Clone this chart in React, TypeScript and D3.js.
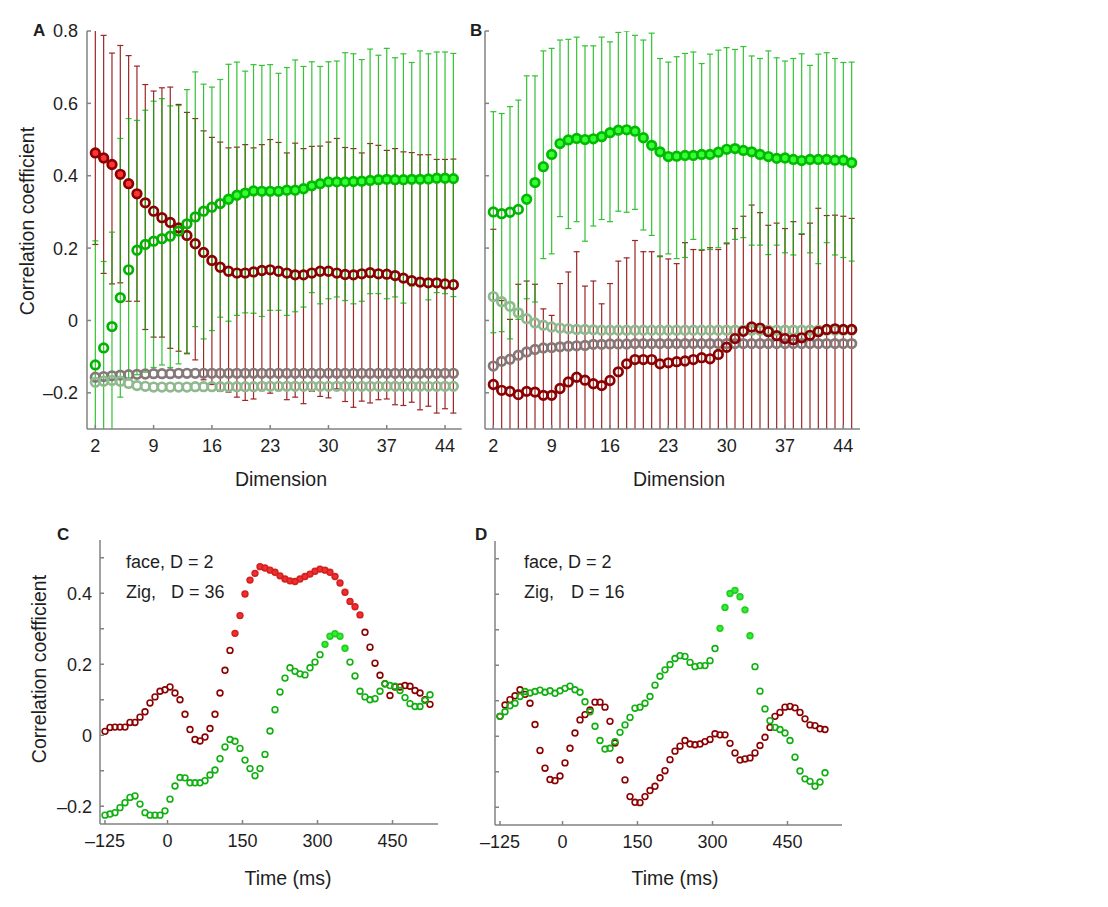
import * as d3 from 'd3'

// x categories
const dims = d3.range(2, 46)
const times = d3.range(-125, 535, 10)

const dimTicks = [2, 9, 16, 23, 30, 37, 44]
const corrTicksAB = [-0.2, 0, 0.2, 0.4, 0.6, 0.8]
const timeTicks = [-125, 0, 150, 300, 450]
const corrTicksCD = [-0.2, -0.1, 0, 0.1, 0.2, 0.3, 0.4, 0.5]
const corrLabelsCD = [-0.2, 0, 0.2, 0.4]

// panel A (dims 2..45)
const aFaceMean = [0.463, 0.449, 0.431, 0.404, 0.378, 0.350, 0.325, 0.302, 0.284, 0.271, 0.256, 0.235, 0.212, 0.188, 0.166, 0.147, 0.136, 0.131, 0.131, 0.134, 0.138, 0.140, 0.136, 0.131, 0.126, 0.126, 0.131, 0.136, 0.136, 0.131, 0.127, 0.126, 0.129, 0.132, 0.129, 0.128, 0.124, 0.117, 0.110, 0.106, 0.104, 0.104, 0.101, 0.099]
const aFaceUp = [0.85, 0.788, 0.739, 0.760, 0.732, 0.703, 0.652, 0.634, 0.643, 0.645, 0.597, 0.575, 0.558, 0.524, 0.506, 0.493, 0.477, 0.479, 0.486, 0.477, 0.486, 0.500, 0.492, 0.463, 0.490, 0.475, 0.481, 0.482, 0.493, 0.503, 0.478, 0.475, 0.463, 0.489, 0.484, 0.470, 0.475, 0.466, 0.464, 0.458, 0.458, 0.445, 0.445, 0.446]
const aFaceLo = [0.210, 0.130, 0.101, 0.104, 0.053, 0.053, -0.025, -0.046, -0.046, -0.077, -0.085, -0.092, -0.109, -0.164, -0.177, -0.196, -0.198, -0.212, -0.221, -0.217, -0.194, -0.201, -0.194, -0.219, -0.212, -0.230, -0.196, -0.210, -0.214, -0.189, -0.224, -0.240, -0.223, -0.228, -0.219, -0.217, -0.233, -0.235, -0.226, -0.247, -0.237, -0.256, -0.244, -0.256]
const aZigMean = [-0.123, -0.076, -0.017, 0.063, 0.140, 0.194, 0.210, 0.219, 0.226, 0.233, 0.247, 0.267, 0.286, 0.302, 0.313, 0.323, 0.335, 0.346, 0.352, 0.358, 0.357, 0.357, 0.357, 0.360, 0.360, 0.364, 0.372, 0.378, 0.383, 0.383, 0.383, 0.384, 0.385, 0.387, 0.389, 0.390, 0.389, 0.389, 0.390, 0.390, 0.391, 0.393, 0.393, 0.392]
const aZigUp = [0.220, 0.163, 0.244, 0.503, 0.558, 0.553, 0.581, 0.606, 0.613, 0.593, 0.594, 0.638, 0.687, 0.653, 0.645, 0.666, 0.708, 0.714, 0.689, 0.707, 0.705, 0.707, 0.683, 0.699, 0.720, 0.702, 0.715, 0.702, 0.715, 0.717, 0.740, 0.737, 0.721, 0.750, 0.733, 0.752, 0.726, 0.737, 0.713, 0.745, 0.737, 0.742, 0.742, 0.738]
const aZigLo = [-0.42, -0.42, -0.42, -0.212, -0.160, -0.150, -0.143, -0.130, -0.123, -0.130, -0.120, -0.090, -0.017, -0.051, -0.028, 0.009, -0.002, 0.014, 0.021, 0.020, 0.011, 0.028, 0.028, 0.014, 0.024, 0.037, 0.077, 0.046, 0.060, 0.065, 0.055, 0.046, 0.053, 0.074, 0.074, 0.060, 0.065, 0.048, 0.095, 0.094, 0.057, 0.077, 0.074, 0.066]
const aFaceNull = [-0.157, -0.155, -0.153, -0.151, -0.150, -0.149, -0.148, -0.147, -0.147, -0.147, -0.146, -0.146, -0.146, -0.146, -0.146, -0.146, -0.146, -0.146, -0.146, -0.146, -0.146, -0.146, -0.146, -0.146, -0.146, -0.146, -0.146, -0.146, -0.146, -0.146, -0.146, -0.146, -0.146, -0.146, -0.146, -0.146, -0.146, -0.146, -0.146, -0.146, -0.146, -0.146, -0.146, -0.146]
const aZigNull = [-0.171, -0.168, -0.166, -0.168, -0.174, -0.180, -0.182, -0.184, -0.184, -0.184, -0.184, -0.184, -0.183, -0.183, -0.183, -0.183, -0.183, -0.183, -0.183, -0.183, -0.182, -0.182, -0.182, -0.182, -0.182, -0.182, -0.182, -0.182, -0.182, -0.182, -0.182, -0.182, -0.182, -0.182, -0.182, -0.182, -0.182, -0.182, -0.182, -0.182, -0.182, -0.182, -0.182, -0.182]
const aFaceSig = [2, 7]
const aZigSig = [18, 45]

// panel B (dims 2..45)
const bFaceMean = [-0.177, -0.193, -0.196, -0.205, -0.196, -0.198, -0.207, -0.207, -0.188, -0.170, -0.157, -0.165, -0.175, -0.180, -0.166, -0.142, -0.120, -0.108, -0.108, -0.108, -0.120, -0.117, -0.114, -0.112, -0.108, -0.103, -0.106, -0.094, -0.074, -0.050, -0.030, -0.018, -0.021, -0.031, -0.042, -0.050, -0.053, -0.048, -0.041, -0.031, -0.025, -0.023, -0.025, -0.025]
const bFaceUp = [0.252, 0.055, 0.003, 0.100, 0.109, 0.100, 0.032, 0.014, 0.102, 0.134, 0.190, 0.095, 0.109, 0.046, 0.102, 0.164, 0.173, 0.221, 0.190, 0.190, 0.178, 0.170, 0.157, 0.215, 0.196, 0.194, 0.201, 0.196, 0.212, 0.254, 0.288, 0.319, 0.298, 0.263, 0.269, 0.254, 0.273, 0.238, 0.269, 0.310, 0.290, 0.291, 0.288, 0.282]
const bFaceLo = [-0.42, -0.42, -0.42, -0.42, -0.42, -0.42, -0.42, -0.42, -0.42, -0.42, -0.42, -0.42, -0.42, -0.42, -0.42, -0.42, -0.42, -0.42, -0.42, -0.42, -0.42, -0.42, -0.42, -0.42, -0.42, -0.42, -0.42, -0.42, -0.42, -0.42, -0.42, -0.42, -0.42, -0.42, -0.42, -0.42, -0.42, -0.42, -0.42, -0.42, -0.42, -0.42, -0.42, -0.42]
const bZigMean = [0.300, 0.295, 0.299, 0.307, 0.335, 0.381, 0.425, 0.459, 0.489, 0.499, 0.503, 0.500, 0.502, 0.508, 0.519, 0.526, 0.527, 0.523, 0.505, 0.484, 0.466, 0.453, 0.454, 0.456, 0.456, 0.459, 0.459, 0.465, 0.473, 0.475, 0.470, 0.466, 0.459, 0.453, 0.448, 0.449, 0.445, 0.442, 0.445, 0.445, 0.445, 0.443, 0.443, 0.436]
const bZigUp = [0.577, 0.572, 0.591, 0.609, 0.676, 0.676, 0.745, 0.752, 0.775, 0.777, 0.783, 0.759, 0.759, 0.783, 0.770, 0.796, 0.800, 0.788, 0.775, 0.794, 0.724, 0.714, 0.729, 0.738, 0.742, 0.710, 0.736, 0.747, 0.754, 0.749, 0.757, 0.731, 0.724, 0.745, 0.726, 0.717, 0.724, 0.737, 0.705, 0.736, 0.740, 0.724, 0.713, 0.714]
const bZigLo = [-0.034, -0.031, -0.051, 0.003, 0.060, 0.051, 0.171, 0.184, 0.287, 0.254, 0.273, 0.219, 0.261, 0.279, 0.273, 0.302, 0.299, 0.307, 0.250, 0.235, 0.176, 0.184, 0.171, 0.174, 0.224, 0.196, 0.196, 0.201, 0.215, 0.224, 0.229, 0.208, 0.208, 0.182, 0.208, 0.187, 0.181, 0.240, 0.187, 0.157, 0.215, 0.181, 0.174, 0.164]
const bFaceNull = [-0.126, -0.113, -0.107, -0.096, -0.087, -0.080, -0.076, -0.075, -0.073, -0.071, -0.070, -0.069, -0.066, -0.066, -0.065, -0.065, -0.065, -0.064, -0.064, -0.064, -0.064, -0.064, -0.064, -0.064, -0.064, -0.064, -0.064, -0.064, -0.064, -0.064, -0.064, -0.064, -0.064, -0.064, -0.064, -0.064, -0.064, -0.064, -0.064, -0.064, -0.064, -0.064, -0.064, -0.064]
const bZigNull = [0.066, 0.052, 0.039, 0.021, 0.005, -0.007, -0.013, -0.018, -0.021, -0.023, -0.025, -0.025, -0.026, -0.027, -0.027, -0.027, -0.027, -0.027, -0.027, -0.027, -0.027, -0.027, -0.027, -0.027, -0.027, -0.027, -0.027, -0.027, -0.027, -0.027, -0.027, -0.027, -0.027, -0.027, -0.027, -0.027, -0.027, -0.027, -0.027, -0.027, -0.027, -0.027, -0.027, -0.027]
const bFaceSig: number[] = []
const bZigSig = [6, 45]

// panel C (time -125..525 ms)
const cFace = [0.011, 0.022, 0.023, 0.023, 0.023, 0.036, 0.036, 0.051, 0.066, 0.091, 0.108, 0.124, 0.128, 0.136, 0.119, 0.100, 0.059, 0.016, -0.012, -0.016, -0.005, 0.019, 0.059, 0.119, 0.183, 0.239, 0.287, 0.337, 0.398, 0.437, 0.456, 0.475, 0.471, 0.465, 0.459, 0.449, 0.440, 0.435, 0.433, 0.440, 0.447, 0.454, 0.462, 0.468, 0.465, 0.459, 0.447, 0.429, 0.403, 0.377, 0.362, 0.339, 0.290, 0.248, 0.203, 0.169, 0.145, 0.112, 0.136, 0.136, 0.140, 0.138, 0.126, 0.119, 0.100, 0.087]
const cZig = [-0.225, -0.222, -0.218, -0.204, -0.190, -0.175, -0.171, -0.194, -0.218, -0.225, -0.225, -0.225, -0.213, -0.180, -0.143, -0.119, -0.120, -0.134, -0.134, -0.134, -0.128, -0.112, -0.098, -0.066, -0.033, -0.012, -0.017, -0.037, -0.070, -0.094, -0.114, -0.094, -0.054, 0.012, 0.072, 0.122, 0.161, 0.190, 0.180, 0.173, 0.170, 0.190, 0.206, 0.227, 0.256, 0.279, 0.286, 0.279, 0.245, 0.206, 0.167, 0.124, 0.108, 0.100, 0.103, 0.124, 0.145, 0.140, 0.138, 0.126, 0.106, 0.089, 0.081, 0.081, 0.098, 0.114]
const cFaceSig = [135, 385]
const cZigSig = [315, 355]

// panel D (time -125..525 ms)
const dFace = [0.056, 0.088, 0.103, 0.114, 0.131, 0.118, 0.093, 0.033, -0.040, -0.090, -0.122, -0.125, -0.112, -0.075, -0.034, 0.009, 0.046, 0.061, 0.074, 0.096, 0.096, 0.082, 0.042, -0.019, -0.067, -0.123, -0.170, -0.186, -0.187, -0.170, -0.153, -0.141, -0.117, -0.097, -0.066, -0.042, -0.028, -0.012, -0.022, -0.024, -0.022, -0.015, -0.009, 0.007, 0.004, 0.004, -0.020, -0.047, -0.067, -0.064, -0.061, -0.047, -0.026, -0.003, 0.025, 0.056, 0.067, 0.082, 0.084, 0.080, 0.067, 0.049, 0.032, 0.030, 0.021, 0.019]
const dZig = [0.056, 0.069, 0.086, 0.093, 0.112, 0.126, 0.122, 0.126, 0.130, 0.124, 0.128, 0.121, 0.128, 0.135, 0.141, 0.131, 0.124, 0.097, 0.069, 0.028, -0.012, -0.036, -0.034, -0.015, 0.011, 0.032, 0.053, 0.079, 0.082, 0.093, 0.112, 0.144, 0.169, 0.187, 0.202, 0.219, 0.227, 0.225, 0.208, 0.196, 0.199, 0.199, 0.213, 0.247, 0.304, 0.363, 0.402, 0.411, 0.393, 0.356, 0.283, 0.196, 0.127, 0.077, 0.044, 0.025, 0.019, 0.009, -0.012, -0.059, -0.098, -0.120, -0.127, -0.141, -0.129, -0.103]
const dFaceSig: number[] = []
const dZigSig = [315, 375]

const font = '"Liberation Sans", Arial, Helvetica, sans-serif'
const axisColor = '#828282'
const textColor = '#1e1e1e'

const faceDark = '#8b0000'
const faceFill = '#ff3535'
const zigDark = '#00b400'
const zigFill = '#36ff36'
const faceNullColor = '#857878'
const zigNullColor = '#8fb98f'

const fmt = (v: number) => (Math.abs(v) < 1e-9 ? '0' : v < 0 ? '\u2013' + String(Math.abs(v)) : String(v))
const inSig = (sig: number[], v: number) => sig.length === 2 && v >= sig[0] && v <= sig[1]

interface DimPanelProps {
    id: string; letter: string; letterX: number;
    left: number; right: number; titleX: number; yLabels: boolean;
    faceMean: number[]; faceUp: number[]; faceLo: number[]; faceSig: number[];
    zigMean: number[]; zigUp: number[]; zigLo: number[]; zigSig: number[];
    faceNull: number[]; zigNull: number[];
}

const DimPanel = (p: DimPanelProps) => {
    const top = 31, bottom = 429
    const x = d3.scaleLinear().domain([1, 46]).range([p.left, p.right])
    const y = d3.scaleLinear().domain([-0.3, 0.8]).range([bottom, top])
    const r = 4.3, sw = 2.7, cap = 3

    const bars = (mean: number[], up: number[], lo: number[], color: string, op: number) =>
        mean.map((_, i) => {
            const cx = x(dims[i])
            return (
                <g key={i} stroke={color} strokeWidth={1.2} opacity={op}>
                    <line x1={cx} x2={cx} y1={y(lo[i])} y2={y(up[i])} />
                    <line x1={cx - cap} x2={cx + cap} y1={y(lo[i])} y2={y(lo[i])} />
                    <line x1={cx - cap} x2={cx + cap} y1={y(up[i])} y2={y(up[i])} />
                </g>
            )
        })

    return (
        <g>
            <defs>
                <clipPath id={p.id}>
                    <rect x={p.left} y={top} width={p.right - p.left} height={bottom - top} />
                </clipPath>
            </defs>
            <g clipPath={`url(#${p.id})`}>
                {bars(p.faceMean, p.faceUp, p.faceLo, faceDark, 0.85)}
                {bars(p.zigMean, p.zigUp, p.zigLo, zigDark, 0.8)}
                {p.faceNull.map((v, i) => (
                    <circle key={'fn' + i} cx={x(dims[i])} cy={y(v)} r={r} fill="none" stroke={faceNullColor} strokeWidth={sw} />
                ))}
                {p.zigNull.map((v, i) => (
                    <circle key={'zn' + i} cx={x(dims[i])} cy={y(v)} r={r} fill="none" stroke={zigNullColor} strokeWidth={sw} />
                ))}
                {p.faceMean.map((v, i) => {
                    const s = inSig(p.faceSig, dims[i])
                    return <circle key={'f' + i} cx={x(dims[i])} cy={y(v)} r={r} fill={s ? faceFill : 'none'} stroke={faceDark} strokeWidth={sw} />
                })}
                {p.zigMean.map((v, i) => {
                    const s = inSig(p.zigSig, dims[i])
                    return <circle key={'z' + i} cx={x(dims[i])} cy={y(v)} r={r} fill={s ? zigFill : 'none'} stroke={s ? '#00bb00' : zigDark} strokeWidth={sw} />
                })}
            </g>
            <line x1={p.left} x2={p.left} y1={top} y2={bottom} stroke={axisColor} strokeWidth={1.5} />
            <line x1={p.left} x2={p.right} y1={bottom} y2={bottom} stroke={axisColor} strokeWidth={1.5} />
            {corrTicksAB.map(t => (
                <g key={'yt' + t}>
                    <line x1={p.left} x2={p.left + 4} y1={y(t)} y2={y(t)} stroke={axisColor} strokeWidth={1.5} />
                    {p.yLabels && (
                        <text x={p.left - 9} y={y(t)} dy="0.36em" textAnchor="end" fontSize={18} fill={textColor}>{fmt(t)}</text>
                    )}
                </g>
            ))}
            {dimTicks.map(t => (
                <g key={'xt' + t}>
                    <line x1={x(t)} x2={x(t)} y1={bottom} y2={bottom - 4} stroke={axisColor} strokeWidth={1.5} />
                    <text x={x(t)} y={bottom + 23} textAnchor="middle" fontSize={18} fill={textColor}>{t}</text>
                </g>
            ))}
            <text x={p.titleX} y={486} textAnchor="middle" fontSize={19.5} fill={textColor}>Dimension</text>
            <text x={p.letterX} y={36} fontSize={17} fontWeight="bold" fill={textColor}>{p.letter}</text>
        </g>
    )
}

interface TimePanelProps {
    letter: string; letterX: number; left: number; right: number; bottom: number; top: number;
    tmax: number; yLabels: boolean; titleX: number; noteX: number; noteDX: number; zigD: number;
    face: number[]; faceSig: number[]; zig: number[]; zigSig: number[];
}

const TimePanel = (p: TimePanelProps) => {
    const x = d3.scaleLinear().domain([-135, p.tmax]).range([p.left, p.right])
    const y = d3.scaleLinear().domain([-0.25, 0.55]).range([p.bottom, p.top])
    const r = 2.9, sw = 1.6
    return (
        <g>
            {p.face.map((v, i) => {
                const s = inSig(p.faceSig, times[i])
                return <circle key={'f' + i} cx={x(times[i])} cy={y(v)} r={r} fill={s ? '#ef3030' : 'none'} stroke={s ? '#d42020' : faceDark} strokeWidth={sw} />
            })}
            {p.zig.map((v, i) => {
                const s = inSig(p.zigSig, times[i])
                return <circle key={'z' + i} cx={x(times[i])} cy={y(v)} r={r} fill={s ? '#33ee33' : 'none'} stroke={s ? '#22cc22' : '#10b010'} strokeWidth={sw} />
            })}
            <line x1={p.left} x2={p.left} y1={p.top} y2={p.bottom} stroke={axisColor} strokeWidth={1.5} />
            <line x1={p.left} x2={p.right} y1={p.bottom} y2={p.bottom} stroke={axisColor} strokeWidth={1.5} />
            {corrTicksCD.map(t => (
                <g key={'yt' + t}>
                    <line x1={p.left} x2={p.left + 4} y1={y(t)} y2={y(t)} stroke={axisColor} strokeWidth={1.5} />
                    {p.yLabels && corrLabelsCD.includes(t) && (
                        <text x={p.left - 8} y={y(t)} dy="0.36em" textAnchor="end" fontSize={18} fill={textColor}>{fmt(t)}</text>
                    )}
                </g>
            ))}
            {timeTicks.map(t => (
                <g key={'xt' + t}>
                    <line x1={x(t)} x2={x(t)} y1={p.bottom} y2={p.bottom - 4} stroke={axisColor} strokeWidth={1.5} />
                    <text x={x(t)} y={p.bottom + 23} textAnchor="middle" fontSize={18} fill={textColor}>{fmt(t)}</text>
                </g>
            ))}
            <text x={p.titleX} y={885} textAnchor="middle" fontSize={19.5} fill={textColor}>Time (ms)</text>
            <text x={p.noteX} y={568} fontSize={18} fill={textColor}>face, D = 2</text>
            <text x={p.noteX} y={598} fontSize={18} fill={textColor}>Zig,</text>
            <text x={p.noteX + p.noteDX} y={598} fontSize={18} fill={textColor}>{`D = ${p.zigD}`}</text>
            <text x={p.letterX} y={540} fontSize={17} fontWeight="bold" fill={textColor}>{p.letter}</text>
        </g>
    )
}

export default function App() {
    return (
        <div style={{ position: 'absolute', left: 0, top: 0, background: '#fff' }}>
            <svg width={1108} height={907} style={{ display: 'block', fontFamily: font }}>
                <rect width={1108} height={907} fill="#fff" />
                <DimPanel id="clipA" letter="A" letterX={33} left={87} right={461.7} titleX={281} yLabels
                    faceMean={aFaceMean} faceUp={aFaceUp} faceLo={aFaceLo} faceSig={aFaceSig}
                    zigMean={aZigMean} zigUp={aZigUp} zigLo={aZigLo} zigSig={aZigSig}
                    faceNull={aFaceNull} zigNull={aZigNull} />
                <DimPanel id="clipB" letter="B" letterX={470} left={485} right={860} titleX={679} yLabels={false}
                    faceMean={bFaceMean} faceUp={bFaceUp} faceLo={bFaceLo} faceSig={bFaceSig}
                    zigMean={bZigMean} zigUp={bZigUp} zigLo={bZigLo} zigSig={bZigSig}
                    faceNull={bFaceNull} zigNull={bZigNull} />
                <text transform="translate(34,221) rotate(-90)" textAnchor="middle" fontSize={19.5} fill={textColor}>Correlation coefficient</text>
                <TimePanel letter="C" letterX={57} left={100} right={438} top={540} bottom={824} tmax={541}
                    yLabels titleX={288} noteX={126} noteDX={45} zigD={36}
                    face={cFace} faceSig={cFaceSig} zig={cZig} zigSig={cZigSig} />
                <TimePanel letter="D" letterX={475} left={495} right={842} top={541} bottom={825} tmax={559}
                    yLabels={false} titleX={675} noteX={524} noteDX={47} zigD={16}
                    face={dFace} faceSig={dFaceSig} zig={dZig} zigSig={dZigSig} />
                <text transform="translate(46,669) rotate(-90)" textAnchor="middle" fontSize={19.5} fill={textColor}>Correlation coefficient</text>
            </svg>
        </div>
    )
}
